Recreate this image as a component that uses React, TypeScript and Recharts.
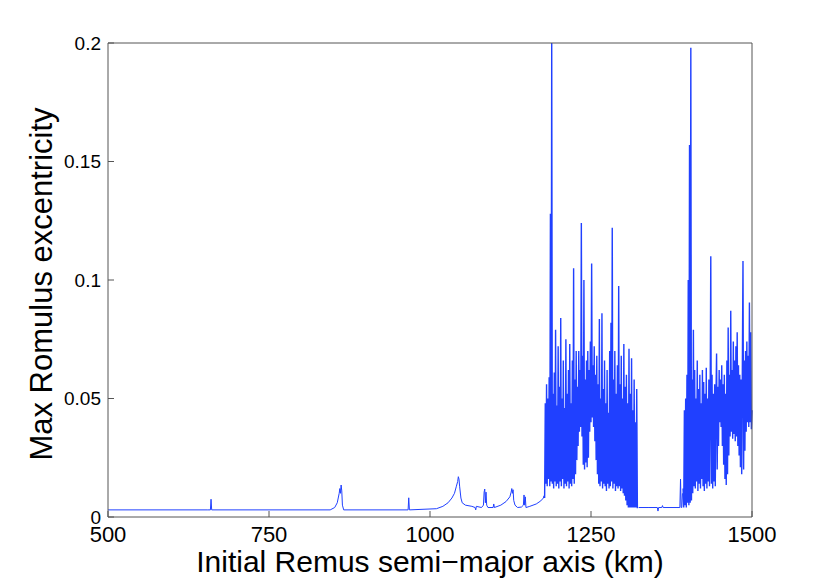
import { LineChart, Line, XAxis, YAxis } from 'recharts'

const xTicks = [500, 750, 1000, 1250, 1500]
const yTicks = [0, 0.05, 0.1, 0.15, 0.2]

// smooth part below the chaotic zone (irregular sampling around the small resonances)
const quietKm = [
  500, 655, 659, 660, 661, 845, 852, 856, 859, 860, 861, 862, 863, 864, 866,
  966, 967, 968, 1010, 1020, 1028, 1034, 1038, 1041, 1043, 1044, 1045, 1046, 1048, 1050,
  1055, 1065, 1070, 1071, 1072, 1080, 1083, 1084, 1085, 1086, 1087, 1088, 1090, 1098, 1099,
  1100, 1110, 1118, 1124, 1126, 1127, 1128, 1129, 1130, 1132, 1136, 1142, 1145, 1146, 1147,
  1148, 1149, 1155, 1165, 1172, 1176, 1177,
]
const quietEcc = [
  0.003, 0.003, 0.003, 0.0075, 0.003, 0.003, 0.004, 0.006, 0.01, 0.012, 0.01, 0.0135, 0.011, 0.005, 0.003,
  0.003, 0.0081, 0.003, 0.0035, 0.0045, 0.006, 0.008, 0.01, 0.013, 0.015, 0.017, 0.016, 0.013, 0.008, 0.006,
  0.005, 0.0045, 0.004, 0.003, 0.0045, 0.004, 0.005, 0.0105, 0.0118, 0.006, 0.0105, 0.005, 0.004, 0.004, 0.0055,
  0.004, 0.005, 0.0065, 0.0085, 0.0105, 0.012, 0.01, 0.0115, 0.007, 0.005, 0.004, 0.0042, 0.005, 0.0093, 0.005,
  0.0085, 0.004, 0.0045, 0.0055, 0.0068, 0.008, 0.009,
]

// first chaotic band, one sample per km from 1178 km
const band1Start = 1178
const band1Ecc = [
  0.008, 0.048, 0.014, 0.056, 0.013, 0.05, 0.016, 0.059, 0.013, 0.128,
  0.015, 0.2, 0.014, 0.052, 0.012, 0.061, 0.015, 0.079, 0.013, 0.047,
  0.014, 0.072, 0.012, 0.055, 0.015, 0.084, 0.013, 0.05, 0.016, 0.066,
  0.012, 0.046, 0.014, 0.075, 0.013, 0.052, 0.015, 0.062, 0.012, 0.073,
  0.014, 0.048, 0.013, 0.066, 0.016, 0.105, 0.014, 0.058, 0.018, 0.07,
  0.024, 0.055, 0.03, 0.07, 0.036, 0.062, 0.038, 0.124, 0.034, 0.068,
  0.022, 0.1, 0.02, 0.058, 0.023, 0.066, 0.021, 0.07, 0.025, 0.062,
  0.036, 0.074, 0.04, 0.107, 0.042, 0.064, 0.038, 0.072, 0.032, 0.06,
  0.024, 0.068, 0.018, 0.056, 0.014, 0.0835, 0.013, 0.05, 0.015, 0.086,
  0.012, 0.054, 0.014, 0.066, 0.013, 0.048, 0.011, 0.062, 0.014, 0.044,
  0.012, 0.07, 0.013, 0.082, 0.015, 0.122, 0.012, 0.058, 0.014, 0.07,
  0.011, 0.052, 0.013, 0.064, 0.012, 0.0975, 0.013, 0.056, 0.011, 0.068,
  0.012, 0.05, 0.01, 0.073, 0.009, 0.055, 0.007, 0.06, 0.005, 0.048,
  0.004, 0.071, 0.004, 0.052, 0.004, 0.067, 0.004, 0.045, 0.004, 0.058,
  0.004, 0.04, 0.004, 0.054, 0.004, 0.004,
]

// quiet gap between the two bands
const gapKm = [1324, 1340, 1353, 1354, 1355, 1360, 1361, 1362, 1388, 1389, 1390, 1391, 1392]
const gapEcc = [0.004, 0.004, 0.004, 0.0025, 0.004, 0.004, 0.0048, 0.004, 0.004, 0.016, 0.004, 0.004, 0.01]

// second chaotic band, one sample per km from 1393 km
const band2Start = 1393
const band2Ecc = [
  0.012, 0.004, 0.045, 0.005, 0.05, 0.004, 0.06, 0.006, 0.1, 0.005,
  0.157, 0.006, 0.198, 0.007, 0.058, 0.01, 0.079, 0.013, 0.062, 0.012,
  0.05, 0.015, 0.066, 0.011, 0.054, 0.014, 0.06, 0.012, 0.048, 0.016,
  0.062, 0.013, 0.057, 0.011, 0.052, 0.014, 0.063, 0.012, 0.05, 0.015,
  0.058, 0.013, 0.046, 0.11, 0.014, 0.06, 0.012, 0.052, 0.015, 0.056,
  0.013, 0.05, 0.069, 0.02, 0.055, 0.03, 0.062, 0.04, 0.058, 0.038,
  0.064, 0.03, 0.056, 0.022, 0.06, 0.016, 0.052, 0.0135, 0.066, 0.018,
  0.08, 0.026, 0.06, 0.034, 0.087, 0.036, 0.062, 0.033, 0.074, 0.035,
  0.066, 0.032, 0.072, 0.034, 0.078, 0.03, 0.064, 0.026, 0.06, 0.021,
  0.058, 0.018, 0.062, 0.108, 0.02, 0.066, 0.028, 0.07, 0.036, 0.074,
  0.04, 0.068, 0.038, 0.0905, 0.04, 0.078, 0.037, 0.045,
]

// quiet stretches and chaotic bands go in separate keys so the bands can be drawn a bit heavier
const data = [
  ...quietKm.map((km, i) => ({ km, quiet: quietEcc[i] })),
  ...band1Ecc.map((ecc, i) => ({ km: band1Start + i, band: ecc })),
  ...gapKm.map((km, i) => ({ km, quiet: gapEcc[i] })),
  ...band2Ecc.map((ecc, i) => ({ km: band2Start + i, band: ecc })),
]

const axisColor = '#555'
const lineColor = '#2040ff'

function XTitle({ viewBox }: any) {
  const { x, y, width, height } = viewBox
  return (
    <text x={x + width / 2} y={y + height - 10} textAnchor="middle" fontSize={30} fill="#000">
      Initial Remus semi−major axis (km)
    </text>
  )
}

function YTitle({ viewBox }: any) {
  const { x, y, height } = viewBox
  const cx = x + 52
  const cy = y + height / 2 + 4
  return (
    <text x={cx} y={cy} transform={`rotate(-90 ${cx} ${cy})`} textAnchor="middle" fontSize={31} fill="#000">
      Max Romulus excentricity
    </text>
  )
}

export default function App() {
  return (
    <div style={{ position: 'absolute', left: 0, top: 0, background: '#fff', fontFamily: '"Liberation Sans", Arial, Helvetica, sans-serif' }}>
      <LineChart width={830} height={582} data={data} margin={{ top: 42, right: 77, bottom: 0, left: 0 }}>
        <XAxis
          dataKey="km"
          type="number"
          domain={[500, 1500]}
          ticks={xTicks}
          interval={0}
          height={65}
          tickSize={-6}
          tickMargin={15}
          stroke={axisColor}
          tick={{ fill: '#000', fontSize: 22 }}
          label={<XTitle />}
        />
        <XAxis
          xAxisId="top"
          orientation="top"
          type="number"
          domain={[500, 1500]}
          ticks={xTicks}
          interval={0}
          height={1}
          tickSize={-6}
          stroke={axisColor}
          tick={false}
        />
        <YAxis
          type="number"
          domain={[0, 0.2]}
          allowDataOverflow
          ticks={yTicks}
          interval={0}
          width={108}
          tickSize={-6}
          tickMargin={13}
          stroke={axisColor}
          tick={{ fill: '#000', fontSize: 19 }}
          tickFormatter={(v: number) => String(v)}
          label={<YTitle />}
        />
        <YAxis
          yAxisId="right"
          orientation="right"
          type="number"
          domain={[0, 0.2]}
          ticks={yTicks}
          interval={0}
          width={1}
          tickSize={-6}
          stroke={axisColor}
          tick={false}
        />
        <Line
          type="linear"
          dataKey="quiet"
          stroke={lineColor}
          strokeWidth={1}
          dot={false}
          activeDot={false}
          isAnimationActive={false}
        />
        <Line
          type="linear"
          dataKey="band"
          stroke={lineColor}
          strokeWidth={1.4}
          dot={false}
          activeDot={false}
          isAnimationActive={false}
        />
      </LineChart>
    </div>
  )
}
